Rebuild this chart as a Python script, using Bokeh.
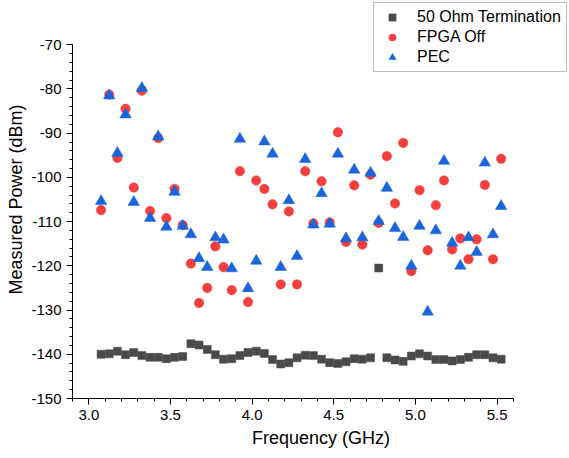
from bokeh.plotting import figure
from bokeh.models import SingleIntervalTicker, NumeralTickFormatter, Legend, LegendItem
from bokeh.embed import file_html
from bokeh.resources import INLINE

# ---- data ----
freq_ghz = [3.075, 3.125, 3.175, 3.225, 3.275, 3.325, 3.375, 3.425, 3.475, 3.525,
            3.575, 3.625, 3.675, 3.725, 3.775, 3.825, 3.875, 3.925, 3.975, 4.025,
            4.075, 4.125, 4.175, 4.225, 4.275, 4.325, 4.375, 4.425, 4.475, 4.525,
            4.575, 4.625, 4.675, 4.725, 4.775, 4.825, 4.875, 4.925, 4.975, 5.025,
            5.075, 5.125, 5.175, 5.225, 5.275, 5.325, 5.375, 5.425, 5.475, 5.525]

term_50ohm = [-140.0, -139.9, -139.3, -140.1, -139.6, -140.3, -140.7, -140.7, -141.0, -140.7,
              -140.5, -137.6, -137.9, -138.9, -140.1, -141.1, -141.0, -140.3, -139.6, -139.3,
              -139.8, -141.2, -142.2, -141.9, -140.8, -140.2, -140.3, -141.1, -141.9, -142.1,
              -141.7, -141.0, -141.1, -140.8, -120.5, -140.8, -141.3, -141.6, -140.4, -139.9,
              -140.4, -141.2, -141.2, -141.5, -141.2, -140.7, -140.1, -140.1, -140.8, -141.1]

fpga_off = [-107.4, -81.3, -95.6, -84.5, -102.3, -80.4, -107.6, -91.1, -109.2, -102.6,
            -110.8, -119.5, -128.4, -125.0, -115.6, -120.3, -125.5, -98.6, -128.2, -100.7,
            -102.6, -106.1, -124.2, -107.7, -124.2, -98.6, -110.4, -100.9, -110.2, -89.8,
            -114.6, -101.8, -115.2, -99.4, -110.3, -95.2, -105.9, -92.2, -121.2, -102.9,
            -116.5, -106.3, -100.7, -116.3, -113.8, -118.5, -114.0, -101.7, -118.5, -95.8]

pec = [-105.4, -81.5, -94.5, -85.8, -105.6, -79.8, -109.2, -90.8, -111.2, -103.3,
       -111.0, -112.9, -118.3, -120.3, -113.6, -114.1, -120.6, -91.3, -125.1, -118.9,
       -91.9, -94.7, -120.3, -105.2, -117.8, -95.9, -110.7, -103.6, -110.5, -94.7,
       -113.8, -98.3, -113.6, -99.0, -109.9, -102.4, -111.5, -113.5, -120.0, -111.0,
       -130.4, -112.0, -96.3, -114.8, -120.0, -113.6, -116.9, -96.7, -112.9, -106.5]

series_names = ["50 Ohm Termination", "FPGA Off", "PEC"]

# axis extents actually drawn (the plot area is larger so the legend can sit in the corner)
x_axis_bounds = (2.9, 5.6)
y_axis_bounds = (-150, -70)

FONT = "Liberation Sans"

p = figure(width=569, height=458, x_range=(2.9, 5.9435), y_range=(-150, -60.0),
           output_backend="svg", toolbar_location=None,
           min_border_left=72, min_border_right=0, min_border_top=0, min_border_bottom=60)
p.outline_line_color = None
p.xgrid.visible = False
p.ygrid.visible = False
p.background_fill_color = "white"
p.border_fill_color = "white"

r_sq = p.scatter(freq_ghz, term_50ohm, marker="square", size=8,
                 fill_color="#4a4a4a", line_color="#4a4a4a", line_width=0.5)
r_ci = p.scatter(freq_ghz, fpga_off, marker="circle", size=9.5,
                 fill_color="#f43f3f", line_color="#f43f3f", line_width=0.5)
r_tr = p.scatter(freq_ghz, pec, marker="triangle", size=11.5,
                 fill_color="#1a66d8", line_color="#1a66d8", line_width=0.5)

for ax, interval, bnds in ((p.xaxis[0], 0.5, x_axis_bounds), (p.yaxis[0], 10, y_axis_bounds)):
    ax.ticker = SingleIntervalTicker(interval=interval, num_minor_ticks=5)
    ax.bounds = bnds
    ax.axis_line_color = "black"
    ax.major_tick_line_color = "black"
    ax.minor_tick_line_color = "black"
    ax.major_tick_out = 6
    ax.major_tick_in = 0
    ax.minor_tick_out = 3
    ax.minor_tick_in = 0
    ax.major_label_text_font = FONT
    ax.major_label_text_font_size = "15px"
    ax.major_label_text_color = "black"
    ax.axis_label_text_font = FONT
    ax.axis_label_text_font_size = "18px"
    ax.axis_label_text_font_style = "normal"
    ax.axis_label_text_color = "black"

p.xaxis[0].formatter = NumeralTickFormatter(format="0.0")
p.yaxis[0].formatter = NumeralTickFormatter(format="0")
p.xaxis[0].axis_label = "Frequency (GHz)"
p.yaxis[0].axis_label = "Measured Power (dBm)"
p.xaxis[0].major_label_standoff = 5
p.yaxis[0].major_label_standoff = 5
p.xaxis[0].axis_label_standoff = 5
p.yaxis[0].axis_label_standoff = 2

legend = Legend(items=[LegendItem(label=series_names[0], renderers=[r_sq]),
                       LegendItem(label=series_names[1], renderers=[r_ci]),
                       LegendItem(label=series_names[2], renderers=[r_tr])],
                location=(301, 326))
legend.label_text_font = FONT
legend.label_text_font_size = "16px"
legend.label_text_color = "black"
legend.padding = 5
legend.spacing = 2
legend.margin = 0
legend.glyph_width = 26
legend.glyph_height = 18
legend.label_height = 18
legend.label_standoff = 12
legend.border_line_color = "#7f7f7f"
legend.border_line_width = 1
legend.background_fill_color = "white"
legend.background_fill_alpha = 1.0
p.add_layout(legend, "center")

open("out.html", "w").write(file_html(p, INLINE))
